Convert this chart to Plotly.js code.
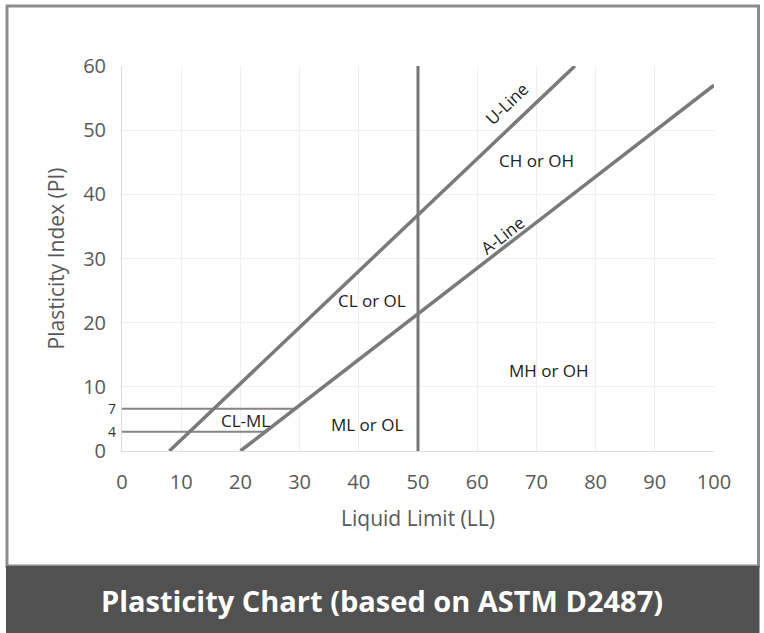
<!DOCTYPE html>
<html><head><meta charset="utf-8">
<script src="https://cdn.plot.ly/plotly-3.0.1.min.js"></script>
<style>html,body{margin:0;padding:0;background:#fff}</style>
</head><body><div id="chart" style="width:764px;height:633px"></div>
<script>
// ---- data ----
const uLineLL = [8, 76.5];
const uLinePI = [0, 60];
const aLineLL = [20, 100];
const aLinePI = [0, 57];
const boundLL = [50, 50];
const boundPI = [0, 60];
const clmlUpperLL = [0, 29.6];
const clmlUpperPI = [6.6, 6.6];
const clmlLowerLL = [0, 24.5];
const clmlLowerPI = [3.0, 3.0];
const xTicks = [0, 10, 20, 30, 40, 50, 60, 70, 80, 90, 100];
const yTicks = [0, 10, 20, 30, 40, 50, 60];
const zoneLabels = ['CL or OL', 'CH or OH', 'MH or OH', 'ML or OL', 'CL-ML'];
const zoneLL = [42.2, 70.0, 72.1, 41.4, 20.8];
const zonePI = [23.5, 45.3, 12.6, 4.2, 4.7];
const lineLabels = ['U-Line', 'A-Line'];
const lineLabelLL = [65.0, 64.2];
const lineLabelPI = [54.2, 33.6];
const lineLabelAngle = [-43.6, -37.6];
const sideTickLabels = ['7', '4'];
const sideTickPI = [6.6, 3.0];
const chartTitle = 'Plasticity Chart (based on ASTM D2487)';
const xTitle = 'Liquid Limit (LL)';
const yTitle = 'Plasticity Index (PI)';

// ---- layout geometry (pixels) ----
const W = 764, H = 633;
const L = 122, R = 714, T = 66, B = 451;
const px = x => (x - L) / (R - L);
const py = y => (B - y) / (B - T);

const lineStyle = {color: '#7a7a7a', width: 3.5};
const thinStyle = {color: '#858585', width: 2};
function tr(x, y, line) {
  return {x: x, y: y, type: 'scatter', mode: 'lines', line: line, hoverinfo: 'skip', showlegend: false};
}
const traces = [
  tr(clmlUpperLL, clmlUpperPI, thinStyle),
  tr(clmlLowerLL, clmlLowerPI, thinStyle),
  tr(boundLL, boundPI, {color: '#777777', width: 3}),
  tr(uLineLL, uLinePI, lineStyle),
  tr(aLineLL, aLinePI, lineStyle)
];

const textFont = {family: 'Open Sans, sans-serif', size: 17, color: '#222222'};
const annotations = [];
zoneLabels.forEach((t, i) => annotations.push({
  x: zoneLL[i], y: zonePI[i], xref: 'x', yref: 'y', text: t, showarrow: false,
  xanchor: 'center', yanchor: 'middle', font: textFont
}));
lineLabels.forEach((t, i) => annotations.push({
  x: lineLabelLL[i], y: lineLabelPI[i], xref: 'x', yref: 'y', text: t, showarrow: false,
  xanchor: 'center', yanchor: 'middle', textangle: lineLabelAngle[i], font: textFont
}));
sideTickLabels.forEach((t, i) => annotations.push({
  x: px(112), y: sideTickPI[i], xref: 'paper', yref: 'y', text: t, showarrow: false,
  xanchor: 'center', yanchor: 'middle',
  font: {family: 'Open Sans, sans-serif', size: 14, color: '#333333'}
}));
annotations.push({
  x: px(382), y: py(600), xref: 'paper', yref: 'paper', text: '<b>' + chartTitle + '</b>',
  showarrow: false, xanchor: 'center', yanchor: 'middle',
  font: {family: 'Open Sans, sans-serif', size: 29, color: '#ffffff'}
});

const shapes = [
  {type: 'rect', xref: 'paper', yref: 'paper', x0: px(7), x1: px(758.5), y0: py(566), y1: py(6),
   line: {color: '#8c8c8c', width: 3}, fillcolor: 'rgba(0,0,0,0)', layer: 'below'},
  {type: 'rect', xref: 'paper', yref: 'paper', x0: px(6), x1: px(759.5), y0: py(634), y1: py(566),
   line: {width: 0}, fillcolor: '#515151', layer: 'below'}
];

const tickFont = {family: 'Open Sans, sans-serif', size: 20, color: '#595959'};
const titleFont = {family: 'Open Sans, sans-serif', size: 21, color: '#595959'};
const layout = {
  width: W, height: H,
  margin: {l: L, r: W - R, t: T, b: H - B, pad: 0},
  paper_bgcolor: '#ffffff', plot_bgcolor: '#ffffff',
  showlegend: false,
  xaxis: {
    range: [0, 100], tickvals: xTicks, ticktext: xTicks.map(String), ticks: '',
    ticklabelstandoff: 13, tickfont: tickFont,
    showgrid: true, gridcolor: '#efefef', gridwidth: 1,
    zeroline: false, showline: true, linecolor: '#dcdcdc', linewidth: 1,
    title: {text: xTitle, font: titleFont, standoff: 17},
    fixedrange: true
  },
  yaxis: {
    range: [0, 60], tickvals: yTicks, ticktext: yTicks.map(String), ticks: '',
    ticklabelstandoff: 11, tickfont: tickFont,
    showgrid: true, gridcolor: '#efefef', gridwidth: 1,
    zeroline: false, showline: true, linecolor: '#dcdcdc', linewidth: 1,
    title: {text: yTitle, font: titleFont, standoff: 12},
    fixedrange: true
  },
  annotations: annotations,
  shapes: shapes
};

Plotly.newPlot('chart', traces, layout, {displayModeBar: false, staticPlot: true});
</script>
</body></html>
